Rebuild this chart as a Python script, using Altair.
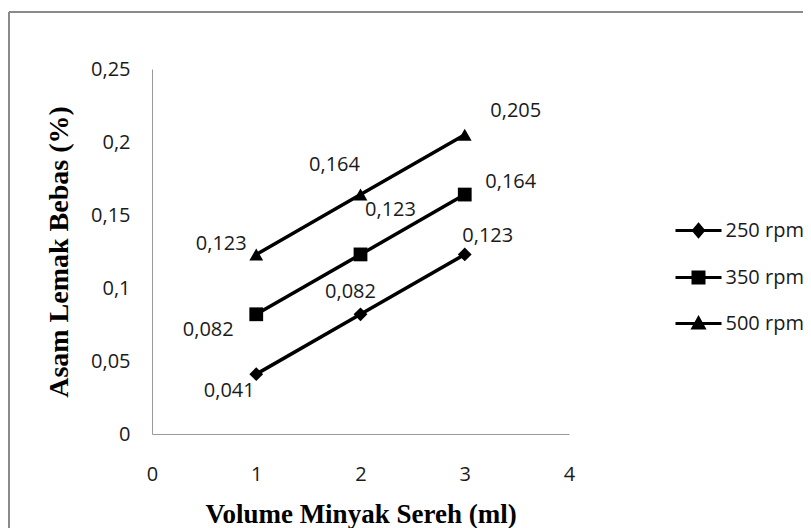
import altair as alt
import pandas as pd

# ---- data ----
volume = [1, 2, 3]
series = ["250 rpm", "350 rpm", "500 rpm"]
values_250 = [0.041, 0.082, 0.123]
values_350 = [0.082, 0.123, 0.164]
values_500 = [0.123, 0.164, 0.205]
x_ticks = [0, 1, 2, 3, 4]
y_ticks = [0, 0.05, 0.1, 0.15, 0.2, 0.25]

rows = []
for s, vals in zip(series, [values_250, values_350, values_500]):
    for v, val in zip(volume, vals):
        rows.append({"x": v, "y": val, "s": s})
df = pd.DataFrame(rows)

LABEL_FONT = "Open Sans"
TITLE_FONT = "Liberation Serif"
TXT = "#1a1a1a"

x_enc = alt.X(
    "x:Q",
    scale=alt.Scale(domain=[0, 4], nice=False, zero=False),
    axis=alt.Axis(
        values=x_ticks, title="Volume Minyak Sereh (ml)", labelPadding=30,
        labelFlush=False, titleY=88, titleBaseline="alphabetic", titleFontSize=27,
    ),
)
y_enc = alt.Y(
    "y:Q",
    scale=alt.Scale(domain=[0, 0.25], nice=False),
    axis=alt.Axis(
        values=y_ticks, title="Asam Lemak Bebas (%)", labelPadding=22,
        labelFlush=False, labelExpr="replace(format(datum.value, '.2~f'), '.', ',')",
        titleX=-85, titleY=182.5, titleBaseline="alphabetic", titleAngle=270,
        titleFontSize=28,
    ),
)

base = alt.Chart(df)

lines = base.mark_line(color="black", strokeWidth=3.5).encode(
    x=x_enc, y=y_enc, detail="s:N"
)

markers = base.mark_point(filled=True, color="black", opacity=1).encode(
    x=x_enc, y=y_enc,
    shape=alt.Shape("s:N", scale=alt.Scale(domain=series, range=["diamond", "square", "triangle-up"]), legend=None),
    size=alt.Size("s:N", scale=alt.Scale(domain=series, range=[190, 190, 200]), legend=None),
)

# legend symbols: a line with the series marker drawn by thick strokes
leg_paths = [
    "M-2,0H2M0,-0.522L0.435,0L0,0.522L-0.435,0Z"
    "M0,-0.522V0.522M-0.254,-0.217H0.254M-0.254,0.217H0.254",
    "M-2,0H2M-0.478,-0.478H0.478V0.478H-0.478Z"
    "M-0.478,-0.217H0.478M-0.478,0.217H0.478",
    "M-2,0H2M0,-0.478L0.478,0.39L-0.478,0.39Z"
    "M0,-0.478V0.39M-0.38,0.217H0.38M-0.14,-0.217H0.14",
]
legend_layer = base.mark_point(
    filled=False, color="black", strokeWidth=3, size=529, opacity=0,
).encode(
    x=x_enc, y=y_enc,
    shape=alt.Shape(
        "s:N",
        scale=alt.Scale(domain=series, range=leg_paths),
        legend=alt.Legend(
            title=None, orient="none", legendX=533.5, legendY=148.5, padding=0,
            symbolSize=529, symbolStrokeWidth=3, symbolStrokeColor="black",
            symbolFillColor="black", symbolOpacity=1, labelFont=LABEL_FONT,
            labelFontSize=20, labelColor=TXT, labelOffset=14, rowPadding=21,
        ),
    ),
)

offsets = {
    "250 rpm": [(-27, 17), (-10, -22), (23, -18)],
    "350 rpm": [(-48, 16), (30, -44), (46, -13)],
    "500 rpm": [(-35, -10), (-26, -30), (51, -24)],
}
texts = []
for s in series:
    for v, (dx, dy) in zip(volume, offsets[s]):
        t = (
            base.transform_filter((alt.datum.s == s) & (alt.datum.x == v))
            .transform_calculate(label="replace(format(datum.y, '.3f'), '.', ',')")
            .mark_text(font=LABEL_FONT, fontSize=20, color=TXT, dx=dx, dy=dy,
                       align="center", baseline="middle")
            .encode(x=x_enc, y=y_enc, text="label:N")
        )
        texts.append(t)

frame_df = pd.DataFrame({"a": [0]})
frame_top = alt.Chart(frame_df).mark_rule(color="#8a8a8a", strokeWidth=2).encode(
    x=alt.value(-143), x2=alt.value(700), y=alt.value(-57)
)
frame_left = alt.Chart(frame_df).mark_rule(color="#8a8a8a", strokeWidth=2).encode(
    x=alt.value(-143), y=alt.value(-57), y2=alt.value(600)
)

chart = (
    alt.layer(frame_top, frame_left, lines, markers, legend_layer, *texts)
    .resolve_scale(shape="independent", size="independent")
    .properties(
        width=417, height=365,
        autosize=alt.AutoSizeParams(type="none"),
        padding={"left": 144, "top": 61, "right": 234, "bottom": 94},
    )
    .configure_view(stroke=None)
    .configure_axis(
        grid=False, ticks=False, tickSize=0, domainColor="#9a9a9a", domainWidth=1,
        labelFont=LABEL_FONT, labelFontSize=20, labelColor=TXT,
        titleFont=TITLE_FONT, titleFontWeight="bold", titleColor="black",
    )
)

chart.save("out.html", embed_options={"renderer": "svg", "actions": False})
